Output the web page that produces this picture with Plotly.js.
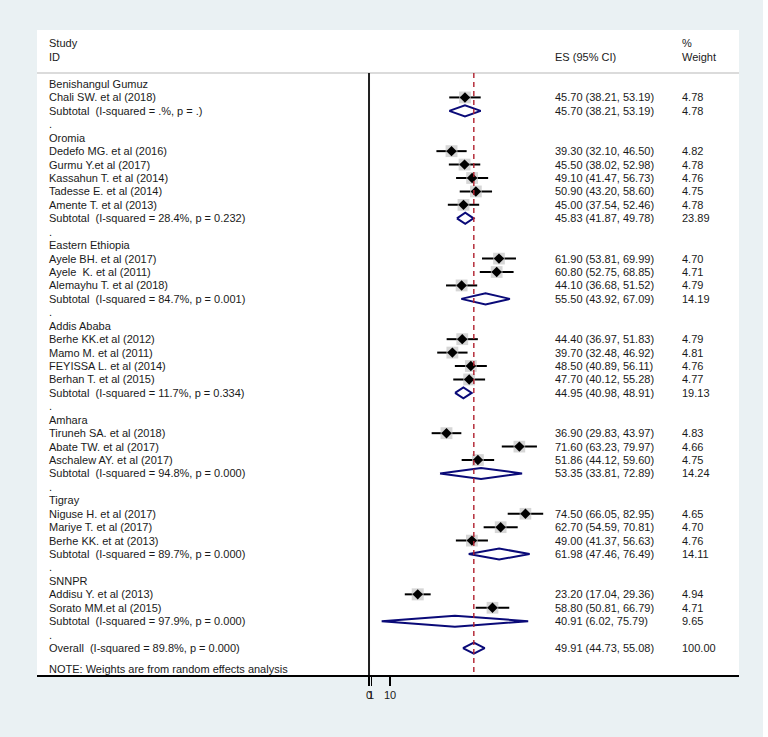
<!DOCTYPE html>
<html>
<head>
<meta charset="utf-8">
<script src="https://cdn.plot.ly/plotly-3.0.1.min.js"></script>
<style>
html,body{margin:0;padding:0;background:#fff;}
#chart{width:768px;height:737px;}
</style>
</head>
<body>
<div id="chart"></div>
<script>
// ---------------- DATA ----------------
const groupNames = ['Benishangul Gumuz', 'Oromia', 'Eastern Ethiopia', 'Addis Ababa', 'Amhara', 'Tigray', 'SNNPR'];

const studyLabels = ['Chali SW. et al (2018)', 'Dedefo MG. et al (2016)', 'Gurmu Y.et al (2017)',
  'Kassahun T. et al (2014)', 'Tadesse E. et al (2014)', 'Amente T. et al (2013)',
  'Ayele BH. et al (2017)', 'Ayele\u00a0 K. et al (2011)', 'Alemayhu T. et al (2018)',
  'Berhe KK.et al (2012)', 'Mamo M. et al (2011)', 'FEYISSA L. et al (2014)', 'Berhan T. et al (2015)',
  'Tiruneh SA. et al (2018)', 'Abate TW. et al (2017)', 'Aschalew AY. et al (2017)',
  'Niguse H. et al (2017)', 'Mariye T. et al (2017)', 'Berhe KK. et at (2013)',
  'Addisu Y. et al (2013)', 'Sorato MM.et al (2015)'];
const studyGroup = [0, 1, 1, 1, 1, 1, 2, 2, 2, 3, 3, 3, 3, 4, 4, 4, 5, 5, 5, 6, 6];
const studyES = [45.70, 39.30, 45.50, 49.10, 50.90, 45.00, 61.90, 60.80, 44.10, 44.40, 39.70, 48.50, 47.70, 36.90, 71.60, 51.86, 74.50, 62.70, 49.00, 23.20, 58.80];
const studyLo = [38.21, 32.10, 38.02, 41.47, 43.20, 37.54, 53.81, 52.75, 36.68, 36.97, 32.48, 40.89, 40.12, 29.83, 63.23, 44.12, 66.05, 54.59, 41.37, 17.04, 50.81];
const studyHi = [53.19, 46.50, 52.98, 56.73, 58.60, 52.46, 69.99, 68.85, 51.52, 51.83, 46.92, 56.11, 55.28, 43.97, 79.97, 59.60, 82.95, 70.81, 56.63, 29.36, 66.79];
const studyWeight = [4.78, 4.82, 4.78, 4.76, 4.75, 4.78, 4.70, 4.71, 4.79, 4.79, 4.81, 4.76, 4.77, 4.83, 4.66, 4.75, 4.65, 4.70, 4.76, 4.94, 4.71];

const subI2 = ['.', '28.4', '84.7', '11.7', '94.8', '89.7', '97.9'];
const subP = ['.', '0.232', '0.001', '0.334', '0.000', '0.000', '0.000'];
const subES = [45.70, 45.83, 55.50, 44.95, 53.35, 61.98, 40.91];
const subLo = [38.21, 41.87, 43.92, 40.98, 33.81, 47.46, 6.02];
const subHi = [53.19, 49.78, 67.09, 48.91, 72.89, 76.49, 75.79];
const subWeight = [4.78, 23.89, 14.19, 19.13, 14.24, 14.11, 9.65];

const overallI2 = '89.8';
const overallP = '0.000';
const overallES = 49.91;
const overallLo = 44.73;
const overallHi = 55.08;
const overallWeight = 100.00;

const tickVals = [0, 1, 10];
const tickText = ['0', '1', '10'];

// ---------------- BUILD ROWS ----------------
const FONT = 'Liberation Sans, Arial, Helvetica, sans-serif';
const TXT = '#1a1a1a';
const COL_LABEL = 0.0145, COL_ES = 0.735, COL_W = 0.916; // paper x of text columns
const DIAM_H = 0.41;

const annotations = [];
function txt(x, y, s) {
  annotations.push({xref: 'paper', yref: 'y', x: x, y: y, text: s, showarrow: false,
    xanchor: 'left', yanchor: 'middle', font: {family: FONT, size: 11, color: TXT}});
}
function fmtCI(es, lo, hi) { return es.toFixed(2) + ' (' + lo.toFixed(2) + ', ' + hi.toFixed(2) + ')'; }

const ciX = [], ciY = [], ptX = [], ptY = [], boxSize = [];
const dX = [], dY = [];
function diamond(es, lo, hi, y) {
  dX.push(lo, es, hi, es, lo, null);
  dY.push(y, y + DIAM_H, y, y - DIAM_H, y, null);
}

let row = 1;
groupNames.forEach((g, gi) => {
  txt(COL_LABEL, -row, g); row++;
  studyLabels.forEach((lab, si) => {
    if (studyGroup[si] !== gi) return;
    const y = -row;
    txt(COL_LABEL, y, lab);
    txt(COL_ES, y, fmtCI(studyES[si], studyLo[si], studyHi[si]));
    txt(COL_W, y, studyWeight[si].toFixed(2));
    ciX.push(studyLo[si], studyHi[si], null); ciY.push(y, y, null);
    ptX.push(studyES[si]); ptY.push(y); boxSize.push(5.4 * Math.sqrt(studyWeight[si]));
    row++;
  });
  const y = -row;
  txt(COL_LABEL, y, 'Subtotal\u00a0 (I-squared = ' + subI2[gi] + '%, p = ' + subP[gi] + ')');
  txt(COL_ES, y, fmtCI(subES[gi], subLo[gi], subHi[gi]));
  txt(COL_W, y, subWeight[gi].toFixed(2));
  diamond(subES[gi], subLo[gi], subHi[gi], y);
  row++;
  txt(COL_LABEL, -row, '.'); row++;
});
const yOverall = -row;
txt(COL_LABEL, yOverall, 'Overall\u00a0 (I-squared = ' + overallI2 + '%, p = ' + overallP + ')');
txt(COL_ES, yOverall, fmtCI(overallES, overallLo, overallHi));
txt(COL_W, yOverall, overallWeight.toFixed(2));
diamond(overallES, overallLo, overallHi, yOverall);

// header rows (above row 1) & note
const Y_STUDY = 2.053, Y_ID = 1.01;
txt(COL_LABEL, Y_STUDY, 'Study');
txt(COL_LABEL, Y_ID, 'ID');
txt(COL_ES, Y_ID, 'ES (95% CI)');
txt(COL_W, Y_STUDY, '%');
txt(COL_W, Y_ID, 'Weight');
txt(COL_LABEL, yOverall - 1.55, 'NOTE: Weights are from random effects analysis');

const Y_TOP = 3.021, Y_BOT = -45.006;
const HEADER_LINE = -0.181;

const traces = [
  {x: ciX, y: ciY, mode: 'lines', line: {color: '#000', width: 2}, hoverinfo: 'skip', showlegend: false},
  {x: ptX, y: ptY, mode: 'markers', marker: {symbol: 'square', size: boxSize, color: '#c4c4c4', line: {width: 0}}, hoverinfo: 'skip', showlegend: false},
  {x: ptX, y: ptY, mode: 'markers', marker: {symbol: 'diamond', size: 8, color: '#000'}, hoverinfo: 'skip', showlegend: false},
  {x: dX, y: dY, mode: 'lines', line: {color: '#0a0a78', width: 2}, hoverinfo: 'skip', showlegend: false}
];

const layout = {
  width: 768, height: 737, autosize: false,
  margin: {l: 37, r: 29, t: 30, b: 62, pad: 0},
  paper_bgcolor: '#eaf1f3', plot_bgcolor: '#ffffff',
  showlegend: false,
  font: {family: FONT, size: 11, color: TXT},
  xaxis: {range: [-158.1, 176.19], showgrid: false, zeroline: false,
    showline: true, linecolor: '#000', linewidth: 1.5,
    ticks: 'outside', ticklen: 9, tickwidth: 1.2, tickcolor: '#000', tickangle: 0,
    tickvals: tickVals, ticktext: tickText, tickfont: {family: FONT, size: 11, color: TXT}, fixedrange: true},
  yaxis: {range: [Y_BOT, Y_TOP], showgrid: false, zeroline: false, showline: false,
    showticklabels: false, ticks: '', fixedrange: true},
  annotations: annotations,
  shapes: [
    {type: 'line', xref: 'paper', yref: 'y', x0: 0, x1: 1, y0: HEADER_LINE, y1: HEADER_LINE, line: {color: '#cfcfcf', width: 1.5}},
    {type: 'line', xref: 'x', yref: 'y', x0: 0, x1: 0, y0: HEADER_LINE, y1: Y_BOT, line: {color: '#222', width: 2}},
    {type: 'line', xref: 'x', yref: 'y', x0: overallES, x1: overallES, y0: HEADER_LINE, y1: Y_BOT, line: {color: '#b0202e', width: 1.4, dash: '5px,4px'}},
    {type: 'rect', xref: 'paper', yref: 'paper', x0: 1.0342, x1: 1.06, y0: -0.2, y1: 1.2, fillcolor: '#ffffff', line: {width: 0}}
  ]
};

Plotly.newPlot('chart', traces, layout, {displayModeBar: false, staticPlot: true});
</script>
</body>
</html>
